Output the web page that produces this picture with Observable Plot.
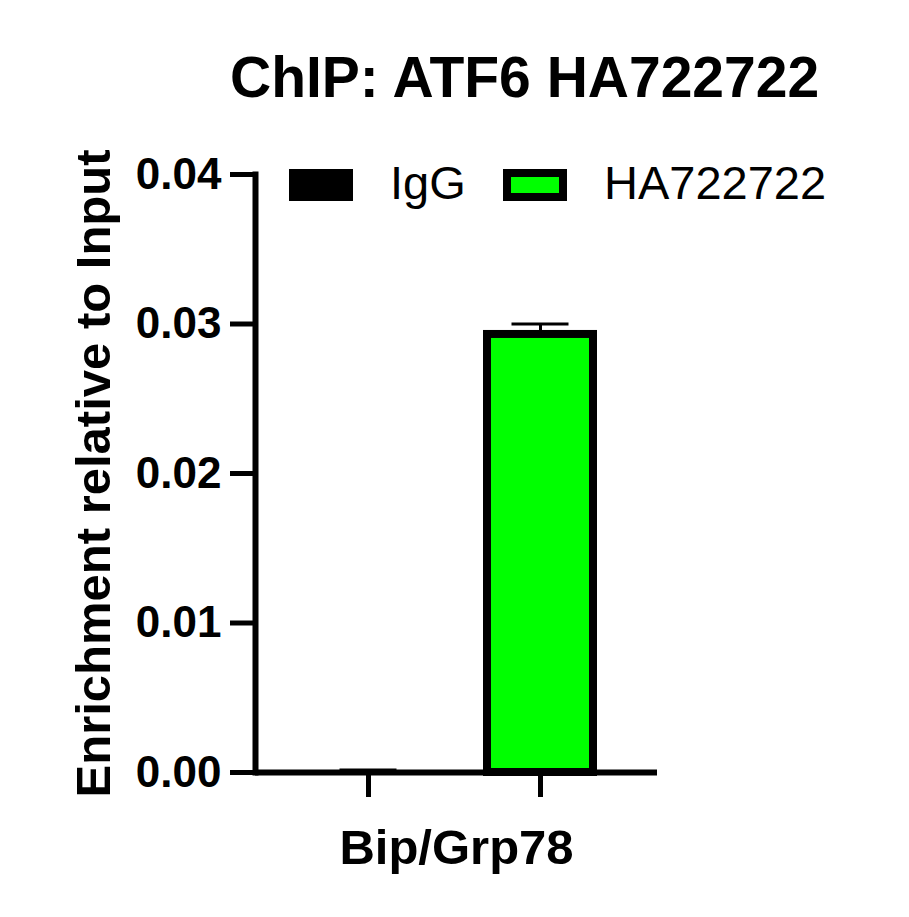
<!DOCTYPE html>
<html>
<head>
<meta charset="utf-8">
<script src="https://cdn.jsdelivr.net/npm/d3@7"></script>
<script src="https://cdn.jsdelivr.net/npm/@observablehq/plot@0.6"></script>
<style>
  html, body { margin: 0; padding: 0; background: #fff; }
  #wrap { position: relative; width: 909px; height: 917px; font-family: "Liberation Sans", Arial, sans-serif; }
  #title { position: absolute; left: 230px; top: 49px; font-size: 57px; line-height: 1; font-weight: bold; white-space: nowrap; color: #000; }
  .sw { position: absolute; top: 169px; width: 64px; height: 32px; box-sizing: border-box; border: 8px solid #000; }
  .lt { position: absolute; top: 159px; font-size: 47px; line-height: 1; white-space: nowrap; color: #000; }
  svg { position: absolute; left: 0; top: 0; }
</style>
</head>
<body>
<div id="wrap"></div>
<script>
const titleText = "ChIP: ATF6 HA722722";
const gene = "Bip/Grp78";
const groups = ["IgG", "HA722722"];
const means = [0.0001, 0.0293];
const errors = [0.00007, 0.0007];
const colors = ["#000000", "#00ff00"];
const yTicks = [0, 0.01, 0.02, 0.03, 0.04];
const yLabel = "Enrichment relative to Input";

const data = groups.map((g, i) => ({group: g, mean: means[i], err: errors[i], top: means[i] + errors[i]}));

const wrap = document.getElementById("wrap");

const chart = Plot.plot({
  width: 909,
  height: 917,
  marginLeft: 255,
  marginRight: 252,
  marginTop: 174,
  marginBottom: 145,
  style: {fontFamily: "'Liberation Sans', Arial, sans-serif", fontWeight: "bold", background: "transparent", color: "#000"},
  x: {domain: groups, paddingInner: 0.384, paddingOuter: 0.3606, align: 0.485},
  y: {domain: [0, 0.04]},
  color: {domain: groups, range: colors},
  marks: [
    Plot.barY(data, {x: "group", y: "mean", fill: "group"}),
    Plot.barY(data, {x: "group", y: "mean", fill: "group", stroke: "#000", strokeWidth: 8, filter: d => d.mean > 0.001}),
    Plot.ruleX(data, {x: "group", y1: "mean", y2: "top", stroke: "#000", strokeWidth: 3}),
    Plot.tickY(data, {x: "group", y: "top", stroke: "#000", strokeWidth: 3, insetLeft: 24.5, insetRight: 24.5}),
    Plot.axisY({ticks: yTicks, tickFormat: d3.format(".2f"), tickSize: 25, tickPadding: 9, strokeWidth: 5, fontSize: 44, label: null}),
    Plot.axisY({ticks: [], label: yLabel, labelAnchor: "center", labelArrow: "none", labelOffset: 180, fontSize: 49}),
    Plot.axisX({tickSize: 25, tickFormat: () => "", strokeWidth: 5, label: gene, labelAnchor: "center", labelArrow: "none", labelOffset: 91, fontSize: 49}),
    Plot.frame({anchor: "left", strokeWidth: 6}),
    Plot.ruleY([0], {stroke: "#000", strokeWidth: 6})
  ]
});
wrap.appendChild(chart);

const title = document.createElement("div");
title.id = "title";
title.textContent = titleText;
wrap.appendChild(title);

const swLeft = [289, 503];
const txLeft = [390, 604];
groups.forEach((g, i) => {
  const sw = document.createElement("div");
  sw.className = "sw";
  sw.style.left = swLeft[i] + "px";
  sw.style.background = colors[i];
  wrap.appendChild(sw);
  const t = document.createElement("div");
  t.className = "lt";
  t.style.left = txLeft[i] + "px";
  t.textContent = g;
  wrap.appendChild(t);
});
</script>
</body>
</html>
